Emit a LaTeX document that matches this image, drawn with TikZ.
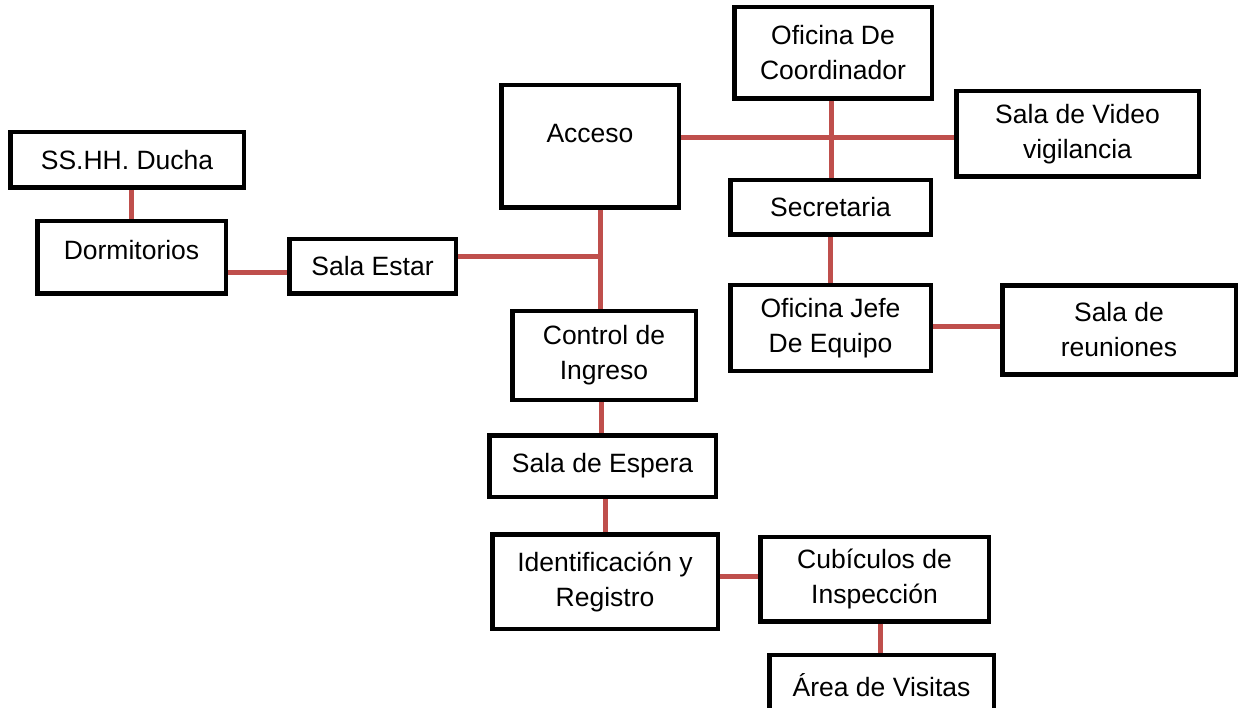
\documentclass[tikz,border=0pt]{standalone}
\usepackage{fontspec}
\setmainfont{Liberation Sans}
\definecolor{linkred}{rgb}{0.75, 0.31, 0.30}
\usepackage{tikz}
\usetikzlibrary{calc}
\usetikzlibrary{positioning}

\begin{document}
\begin{tikzpicture}[x=1pt, y=-1pt]
	% ------------------------------------------------------------------
	% STYLE DEFINITIONS
	% ------------------------------------------------------------------
	\tikzset{
		room/.style = {draw, rectangle, line width=4.5pt, inner sep=0pt, align=center,
			font=\fontsize{26.5}{35}\selectfont},
		link/.style = {line width=5pt, linkred}
	}
	\useasboundingbox (0,0) rectangle (1239,708);
	
	% --- Left wing ---
	\node[room, minimum width=233.5pt, minimum height=55.5pt] (ducha) at (127,160) {SS.HH. Ducha};
	\node[room, minimum width=188.5pt, minimum height=72.5pt, text depth=15pt] (dorm) at (131.5,257.5) {Dormitorios};
	\node[room, minimum width=166.5pt, minimum height=54.5pt] (estar) at (372.5,266.5) {Sala Estar};
	
	% --- Access and offices ---
	\node[room, minimum width=177.5pt, minimum height=122.5pt, text depth=27pt] (acceso) at (590,146.5) {Acceso};
	\node[room, minimum width=197.5pt, minimum height=91.5pt] (coord) at (833,53) {Oficina De\\Coordinador};
	\node[room, minimum width=242.5pt, minimum height=85.5pt] (video) at (1077.5,134) {Sala de Video\\vigilancia};
	\node[room, minimum width=200.5pt, minimum height=54.5pt] (secre) at (830.5,207.5) {Secretaria};
	\node[room, minimum width=200.5pt, minimum height=85.5pt] (jefe) at (830.5,328) {Oficina Jefe\\De Equipo};
	\node[room, minimum width=233.5pt, minimum height=88.5pt] (reunion) at (1119,330) {Sala de\\reuniones};
	
	% --- Entry sequence ---
	\node[room, minimum width=183.5pt, minimum height=88.5pt] (control) at (604,355.5) {Control de\\Ingreso};
	\node[room, minimum width=226.5pt, minimum height=61.5pt] (espera) at (602.5,466) {Sala de Espera};
	\node[room, minimum width=225.5pt, minimum height=94.5pt] (ident) at (605,581.5) {Identificación y\\Registro};
	\node[room, minimum width=228.5pt, minimum height=84.5pt] (cub) at (874.5,579) {Cubículos de\\Inspección};
	\node[room, minimum width=224.5pt, minimum height=60pt] (visitas) at (881.5,685) {Área de Visitas};
	
	% --- Connectors ---
	\coordinate (J) at (600,257);
	\draw[link] (dorm.north) -- (dorm.north |- ducha.south);
	\draw[link] (dorm.east |- 0,273) -- (estar.west |- 0,273);
	\draw[link] (estar.east |- J) -- (J);
	\draw[link] (acceso.south -| J) -- (control.north -| J);
	\draw[link] (acceso.east |- 0,138) -- (video.west |- 0,138);
	\draw[link] (coord.south -| 831,0) -- (secre.north -| 831,0);
	\draw[link] (secre.south -| 830,0) -- (jefe.north -| 830,0);
	\draw[link] (jefe.east |- 0,327) -- (reunion.west |- 0,327);
	\draw[link] (control.south -| 601,0) -- (espera.north -| 601,0);
	\draw[link] (espera.south -| 605,0) -- (ident.north -| 605,0);
	\draw[link] (ident.east |- 0,576) -- (cub.west |- 0,576);
	\draw[link] (cub.south -| 880,0) -- (visitas.north -| 880,0);
	
\end{tikzpicture}
\end{document}
